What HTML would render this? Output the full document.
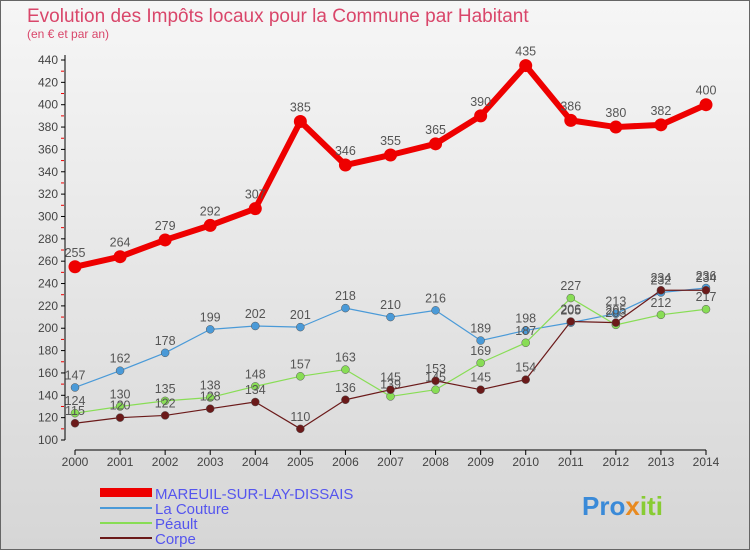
<!DOCTYPE html>
<html><head><meta charset="utf-8"><style>
body{margin:0;width:750px;height:550px;overflow:hidden;font-family:"Liberation Sans",sans-serif}
svg{display:block}
</style></head><body>
<svg id="c" width="750" height="550">
<defs><linearGradient id="bg" x1="0" y1="0" x2="0" y2="1"><stop offset="0" stop-color="#f6f6f6"/><stop offset="1" stop-color="#d6d6d6"/></linearGradient></defs>
<rect x="0.5" y="0.5" width="749" height="549" fill="url(#bg)" stroke="#666"/>
<text x="27" y="22" font-size="19" fill="#d9466a">Evolution des Impôts locaux pour la Commune par Habitant</text>
<text x="27" y="38" font-size="12" fill="#d9466a">(en € et par an)</text>
<g id="axes"></g><g id="marks"></g>
<g>
<rect x="100" y="488" width="52" height="9" fill="#e00"/>
<text x="155" y="499" font-size="15" fill="#5555ee">MAREUIL-SUR-LAY-DISSAIS</text>
<rect x="100" y="507" width="52" height="2" fill="#4a9ad8"/>
<text x="155" y="514" font-size="15" fill="#5555ee">La Couture</text>
<rect x="100" y="522" width="52" height="2" fill="#88dd55"/>
<text x="155" y="529" font-size="15" fill="#5555ee">Péault</text>
<rect x="100" y="537" width="52" height="2" fill="#6b1a1a"/>
<text x="155" y="544" font-size="15" fill="#5555ee">Corpe</text>
</g>
<text x="582" y="515" font-size="26" font-weight="bold" fill="#3a8ad8">Pro<tspan fill="#e88a20">x</tspan><tspan fill="#88cc33">iti</tspan></text>
</svg>
<script>
const years=[2000,2001,2002,2003,2004,2005,2006,2007,2008,2009,2010,2011,2012,2013,2014];
const mareuil=[255,264,279,292,307,385,346,355,365,390,435,386,380,382,400];
const couture=[147,162,178,199,202,201,218,210,216,189,198,205,213,232,236];
const peault=[124,130,135,138,148,157,163,139,145,169,187,227,203,212,217];
const corpe=[115,120,122,128,134,110,136,145,153,145,154,206,205,234,234];
const yTicks=[100,120,140,160,180,200,220,240,260,280,300,320,340,360,380,400,420,440];
const NS='http://www.w3.org/2000/svg';
const X=i=>75+i*(706-75)/(years.length-1);
const Y=v=>440-(v-100)*380/340;
function mk(t,a,p){const e=document.createElementNS(NS,t);for(const k in a)e.setAttribute(k,a[k]);p.appendChild(e);return e;}
const ax=document.getElementById('axes'),mg=document.getElementById('marks');
const yl=mk('line',{x1:65,y1:Y(440)-5,x2:65,y2:Y(100),stroke:'#000'},ax);


yTicks.forEach(v=>{
  mk('line',{x1:61,y1:Y(v),x2:65,y2:Y(v),stroke:'#000'},ax);
  if(v<440)mk('line',{x1:61,y1:Y(v+10),x2:64,y2:Y(v+10),stroke:'#e00'},ax);
  const t=mk('text',{x:58,y:Y(v)+4,'font-size':12,'text-anchor':'end',fill:'#444'},ax);t.textContent=v;
  
  
});
const xl=mk('line',{x1:X(0),y1:450,x2:X(14),y2:450,stroke:'#000'},ax);


years.forEach((yr,i)=>{
  mk('line',{x1:X(i),y1:450,x2:X(i),y2:455,stroke:'#000'},ax);
  const t=mk('text',{x:X(i),y:466,'font-size':12,'text-anchor':'middle',fill:'#444'},ax);t.textContent=yr;
  
  
});
function series(d,col,w,r,name){
  const g=mk('g',{},mg);
  
  
  mk('polyline',{points:d.map((v,i)=>X(i)+','+Y(v)).join(' '),fill:'none',stroke:col,'stroke-width':w,'stroke-linejoin':'round'},g);
  d.forEach((v,i)=>{
    const c=mk('circle',{cx:X(i),cy:Y(v),r:r,fill:col,stroke:w>2?'none':'#555','stroke-width':0.5},g);
    
    
    const t=mk('text',{x:X(i),y:Y(v)-(w>2?10:8),'font-size':12.5,'text-anchor':'middle',fill:'#555'},g);t.textContent=v;
    
    
  });
}
series(couture,'#4a9ad8',1.2,4,'la-couture');
series(peault,'#88dd55',1.2,4,'peault');
series(corpe,'#6b1a1a',1.2,4,'corpe');
series(mareuil,'#e00',6,6.5,'mareuil');
</script>
</body></html>
